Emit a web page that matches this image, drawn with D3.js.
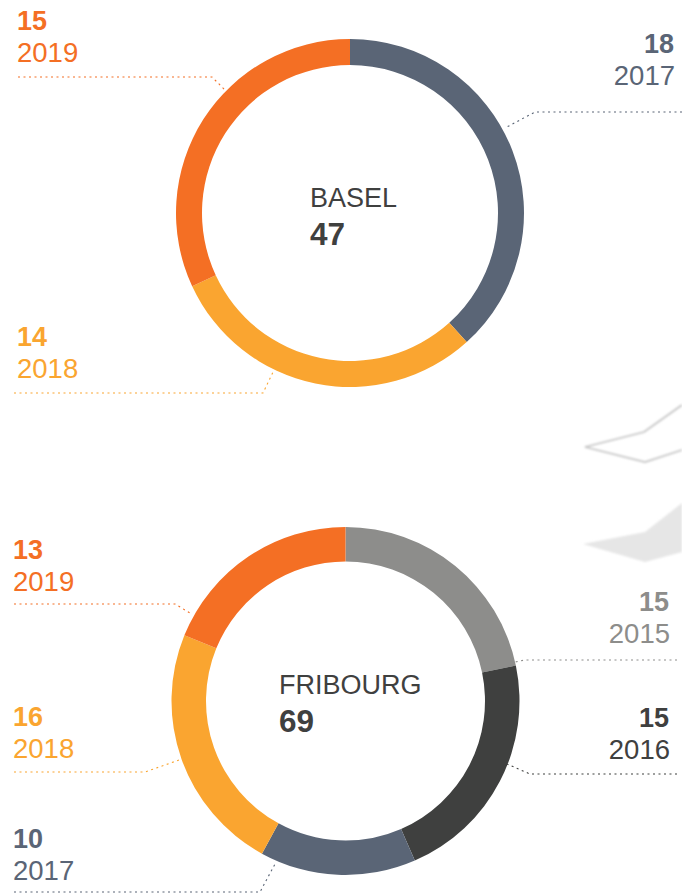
<!DOCTYPE html>
<html><head><meta charset="utf-8">
<script src="https://cdn.jsdelivr.net/npm/d3@7"></script>
<style>html,body{margin:0;padding:0;background:#fff}svg{display:block}text{font-family:"Liberation Sans",Arial,sans-serif}</style>
</head><body><svg id="c" width="682" height="893"></svg>
<script>
const cantons = ["BASEL", "FRIBOURG"];
const totals = [47, 69];
const baselYears = ["2017", "2018", "2019"];
const baselValues = [18, 14, 15];
const fribourgYears = ["2015", "2016", "2017", "2018", "2019"];
const fribourgValues = [15, 15, 10, 16, 13];
const yearColors = {"2015":"#8d8d8b","2016":"#3f403f","2017":"#5a6576","2018":"#faa530","2019":"#f46f24"};

// layout only
const donutLayout = [
  {cx:350, cy:213, outer:174, inner:148, lx:310, ly:207},
  {cx:345.5, cy:701, outer:174, inner:139.5, lx:279, ly:694}
];
const labelLayout = [
  [{x:674,y:53,a:"end",line:[[682,112],[535,112],[505,128]]},
   {x:17,y:346,a:"start",line:[[14,393],[263,393],[274,370]]},
   {x:17,y:30,a:"start",line:[[18,77],[212,77],[225,90]]}],
  [{x:669,y:611,a:"end",line:[[677,660],[525,660],[515,662]]},
   {x:669,y:727,a:"end",line:[[677,774],[530,774],[507,764]]},
   {x:13,y:848,a:"start",line:[[14,892],[260,892],[275,864]]},
   {x:13,y:726,a:"start",line:[[14,772],[145,772],[182,759]]},
   {x:13,y:559,a:"start",line:[[14,604],[175,604],[190,613]]}]
];
const mapOutline = [[682,405],[644,432],[585,447],[645,462],[682,450]];
const mapFill = [[682,503],[645,532],[583,544],[645,562],[682,552]];

const svg = d3.select("#c");
const defs = svg.append("defs");
defs.append("filter").attr("id","blur").append("feGaussianBlur").attr("stdDeviation",1.3);
const lineGen = d3.line();
svg.append("path").attr("d",lineGen(mapFill)+"Z").attr("fill","#e6e6e6").attr("filter","url(#blur)");
svg.append("path").attr("d",lineGen(mapOutline)).attr("fill","none").attr("stroke","#c4c4c4").attr("stroke-width",1.8).attr("filter","url(#blur)");

const pie = d3.pie().sort(null);
const sets = [[baselYears,baselValues],[fribourgYears,fribourgValues]];
sets.forEach(([years,values],i)=>{
  const L = donutLayout[i];
  const g = svg.append("g").attr("transform",`translate(${L.cx},${L.cy})`);
  const arc = d3.arc().innerRadius(L.inner).outerRadius(L.outer);
  g.selectAll("path").data(pie(values)).join("path")
    .attr("d",arc).attr("fill",(d,j)=>yearColors[years[j]]);
  svg.append("text").attr("x",L.lx).attr("y",L.ly).attr("font-size",27).attr("fill","#3f403f").text(cantons[i]);
  svg.append("text").attr("x",L.lx).attr("y",L.ly+37.5).attr("font-size",31.5).attr("font-weight",700).attr("fill","#3f403f").text(totals[i]);
  years.forEach((y,j)=>{
    const P = labelLayout[i][j], c = yearColors[y];
    svg.append("path").attr("d",lineGen(P.line)).attr("fill","none").attr("stroke",c)
      .attr("stroke-width",1.1).attr("stroke-dasharray","2 3.5");
    svg.append("text").attr("x",P.x).attr("y",P.y).attr("text-anchor",P.a).attr("font-size",27).attr("font-weight",700).attr("fill",c).text(values[j]);
    svg.append("text").attr("x",P.x+(P.a==="end"?1:0)).attr("y",P.y+32).attr("text-anchor",P.a).attr("font-size",27.5).attr("fill",c).text(y);
  });
});
</script></body></html>
